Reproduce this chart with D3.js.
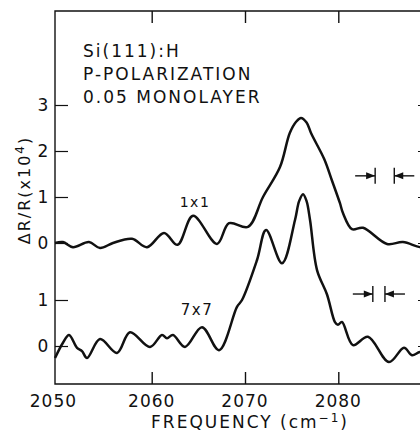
<!DOCTYPE html>
<html>
<head>
<meta charset="utf-8">
<script src="https://cdn.jsdelivr.net/npm/d3@7"></script>
<style>
	html, body { margin: 0; padding: 0; background: #fff; }
	svg { display: block; }
	text { font-family: "DejaVu Sans", sans-serif; fill: #111; }
</style>
</head>
<body>
<script>
// spectra (frequency in cm-1, dR/R in units of 1e-4)
const freq1x1 = [2049.64, 2050.49, 2051.56, 2053.28, 2054.46, 2055.85, 2057.89, 2059.5, 2061.32, 2062.77,
	2064.43, 2067.0, 2068.29, 2070.32, 2071.93, 2073.75, 2074.8, 2075.5, 2076.0, 2076.6, 2077.1, 2078.5,
	2079.3, 2080.17, 2080.5, 2081.47, 2082.65, 2085.22, 2086.93, 2088.75, 2089.95];
const val1x1 = [0.0, 0.02, -0.09, 0.02, -0.11, 0.0, 0.09, -0.09, 0.22, -0.04,
	0.59, -0.02, 0.43, 0.35, 1.0, 1.65, 2.39, 2.64, 2.72, 2.62, 2.38, 1.82,
	1.37, 0.87, 0.65, 0.30, 0.33, -0.02, 0.02, -0.09, -0.1];

const freq7x7 = [2049.64, 2050.49, 2051.14, 2052.0, 2052.53, 2053.07, 2054.46, 2056.28, 2057.67, 2059.82,
	2061.1, 2061.64, 2062.28, 2063.57, 2065.39, 2067.22, 2069.14, 2069.68, 2071.29, 2072.26, 2073.97,
	2075.36, 2075.8, 2076.22, 2076.6, 2076.97, 2077.72, 2078.79, 2079.64, 2079.96, 2080.39, 2081.57,
	2083.18, 2085.43, 2087.04, 2087.9, 2088.75, 2089.95];
const val7x7 = [-0.26, 0.07, 0.24, -0.04, -0.11, -0.26, 0.15, -0.15, 0.30, -0.02,
	0.24, 0.17, 0.24, -0.02, 0.41, -0.09, 0.85, 1.0, 1.87, 2.52, 1.80,
	2.74, 3.15, 3.30, 3.15, 2.74, 1.65, 1.12, 0.52, 0.46, 0.52, 0.02,
	0.2, -0.35, -0.04, -0.2, -0.13, -0.15];

const xTicks = [2050, 2060, 2070, 2080];
const yTicksUpper = [0, 1, 2, 3];
const yTicksLower = [0, 1];

// instrumental resolution markers: [left bar, right bar] in cm-1, and height
const resUpper = [2083.95, 2086.0];
const resUpperLevel = 1.46;
const resLower = [2083.7, 2085.0];
const resLowerLevel = 1.13;

const width = 420;
const height = 432;
const frame = { left: 55, right: 431, top: 11, bottom: 384 };

const svg = d3.select("body").append("svg")
	.attr("width", width)
	.attr("height", height);

const x = d3.scaleLinear().domain([2050, 2090]).range([58.4, 431.6]);
const yUpper = d3.scaleLinear().domain([0, 3]).range([243, 105]);
const yLower = d3.scaleLinear().domain([0, 1]).range([346, 300]);

// frame
svg.append("path")
	.attr("d", `M${frame.right},${frame.top}H${frame.left}V${frame.bottom}H${frame.right}V${frame.top}`)
	.attr("fill", "none")
	.attr("stroke", "#111")
	.attr("stroke-width", 1.4);

// x ticks, top and bottom, pointing inward
const xTickVals = xTicks.filter(d => d > 2050);
svg.append("g")
	.attr("transform", `translate(0,${frame.bottom})`)
	.call(d3.axisBottom(x).tickValues(xTickVals).tickSizeInner(-12).tickSizeOuter(0).tickFormat(""))
	.call(g => g.select(".domain").remove())
	.call(g => g.selectAll("line").attr("stroke", "#111").attr("stroke-width", 1.4));
svg.append("g")
	.attr("transform", `translate(0,${frame.top})`)
	.call(d3.axisTop(x).tickValues(xTickVals).tickSizeInner(-12).tickSizeOuter(0).tickFormat(""))
	.call(g => g.select(".domain").remove())
	.call(g => g.selectAll("line").attr("stroke", "#111").attr("stroke-width", 1.4));

svg.append("g")
	.selectAll("text")
	.data(xTicks)
	.join("text")
	.attr("x", d => x(d) - (d === 2050 ? 5 : 0))
	.attr("y", 407)
	.attr("text-anchor", "middle")
	.attr("font-size", 17)
	.attr("letter-spacing", 1)
	.text(d => d);

// y ticks, both sides, for the two offset traces
function yTicks(scale, values) {
	svg.append("g")
		.attr("transform", `translate(${frame.left},0)`)
		.call(d3.axisLeft(scale).tickValues(values).tickSizeInner(-13).tickSizeOuter(0).tickFormat(""))
		.call(g => g.select(".domain").remove())
		.call(g => g.selectAll("line").attr("stroke", "#111").attr("stroke-width", 1.2));
	svg.append("g")
		.attr("transform", `translate(${frame.right},0)`)
		.call(d3.axisRight(scale).tickValues(values).tickSizeInner(-13).tickSizeOuter(0).tickFormat(""))
		.call(g => g.select(".domain").remove())
		.call(g => g.selectAll("line").attr("stroke", "#111").attr("stroke-width", 1.2));
	svg.append("g")
		.selectAll("text")
		.data(values)
		.join("text")
		.attr("x", 43)
		.attr("y", d => scale(d) + 6)
		.attr("text-anchor", "middle")
		.attr("font-size", 17)
		.text(d => d);
}
yTicks(yUpper, yTicksUpper);
yTicks(yLower, yTicksLower);

// traces
const line = (scale) => d3.line()
	.x(d => x(d[0]))
	.y(d => scale(d[1]))
	.curve(d3.curveCatmullRom.alpha(0.5));

svg.append("path")
	.datum(d3.zip(freq1x1, val1x1))
	.attr("d", line(yUpper))
	.attr("fill", "none")
	.attr("stroke", "#111")
	.attr("stroke-width", 2.5)
	.attr("stroke-linejoin", "round");

svg.append("path")
	.datum(d3.zip(freq7x7, val7x7))
	.attr("d", line(yLower))
	.attr("fill", "none")
	.attr("stroke", "#111")
	.attr("stroke-width", 2.5)
	.attr("stroke-linejoin", "round");

// resolution arrows  ->| |<-
function resMarker(pair, yPos) {
	const g = svg.append("g");
	const xl = x(pair[0]);
	const xr = x(pair[1]);
	const len = 20;
	g.append("line").attr("x1", xl - len).attr("x2", xl).attr("y1", yPos).attr("y2", yPos);
	g.append("line").attr("x1", xr).attr("x2", xr + len).attr("y1", yPos).attr("y2", yPos);
	g.append("line").attr("x1", xl).attr("x2", xl).attr("y1", yPos - 8).attr("y2", yPos + 8);
	g.append("line").attr("x1", xr).attr("x2", xr).attr("y1", yPos - 8).attr("y2", yPos + 8);
	g.selectAll("line").attr("stroke", "#111").attr("stroke-width", 1.4);
	g.append("path").attr("d", `M${xl},${yPos}l-9,-3.5v7z`).attr("fill", "#111");
	g.append("path").attr("d", `M${xr},${yPos}l9,-3.5v7z`).attr("fill", "#111");
}
resMarker(resUpper, yUpper(resUpperLevel));
resMarker(resLower, yLower(resLowerLevel));

// labels
const notes = ["Si(111):H", "P-POLARIZATION", "0.05 MONOLAYER"];
svg.append("g")
	.selectAll("text")
	.data(notes)
	.join("text")
	.attr("x", 83)
	.attr("y", (d, i) => 57 + i * 23)
	.attr("font-size", 17)
	.attr("letter-spacing", 2)
	.text(d => d);

svg.append("text")
	.attr("x", 195)
	.attr("y", 207)
	.attr("text-anchor", "middle")
	.attr("font-size", 14)
	.attr("letter-spacing", 1.5)
	.text("1x1");

svg.append("text")
	.attr("x", 197)
	.attr("y", 315)
	.attr("text-anchor", "middle")
	.attr("font-size", 15)
	.attr("letter-spacing", 1.5)
	.text("7x7");

const yTitle = svg.append("text")
	.attr("transform", "translate(30,190) rotate(-90)")
	.attr("text-anchor", "middle")
	.attr("font-size", 16)
	.attr("letter-spacing", 2);
yTitle.append("tspan").text("ΔR/R(x10");
yTitle.append("tspan").attr("dy", -6).attr("font-size", 12).text("4");
yTitle.append("tspan").attr("dy", 6).text(")");

const xTitle = svg.append("text")
	.attr("x", 250)
	.attr("y", 428)
	.attr("text-anchor", "middle")
	.attr("font-size", 17)
	.attr("letter-spacing", 2);
xTitle.append("tspan").text("FREQUENCY (cm");
xTitle.append("tspan").attr("dy", -6).attr("font-size", 12).text("−1");
xTitle.append("tspan").attr("dy", 6).text(")");
</script>
</body>
</html>
